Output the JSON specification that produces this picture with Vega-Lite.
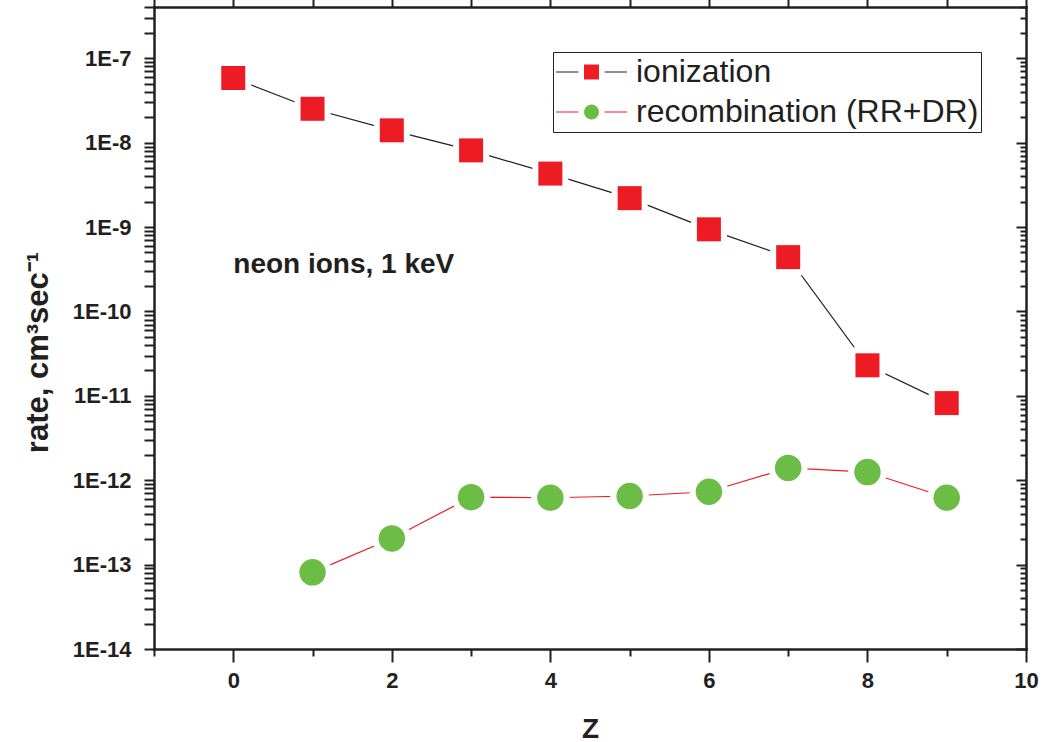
{
  "$schema": "https://vega.github.io/schema/vega-lite/v6.json",
  "width": 872,
  "height": 642,
  "autosize": {"type": "none"},
  "padding": {"left": 154, "top": 7, "right": 16, "bottom": 93},
  "background": "white",
  "config": {
    "view": {"stroke": null},
    "font": "Liberation Sans",
    "axis": {
      "grid": false,
      "domainColor": "#231F20",
      "domainWidth": 2.5,
      "domainCap": "square",
      "tickColor": "#231F20",
      "tickWidth": 2,
      "labelFont": "Liberation Sans",
      "labelFontWeight": "bold",
      "labelFontSize": 22,
      "labelColor": "#231F20",
      "labelFlush": false,
      "labelOverlap": false,
      "titleFont": "Liberation Sans",
      "titleFontWeight": "bold",
      "titleColor": "#231F20"
    },
    "legend": {"labelFont": "Liberation Sans"}
  },
  "datasets": {
    "rates": [
      {"Z": 0, "rate": 5.84e-8, "process": "ionization"},
      {"Z": 1, "rate": 2.52e-8, "process": "ionization"},
      {"Z": 2, "rate": 1.40e-8, "process": "ionization"},
      {"Z": 3, "rate": 8.1e-9, "process": "ionization"},
      {"Z": 4, "rate": 4.3e-9, "process": "ionization"},
      {"Z": 5, "rate": 2.2e-9, "process": "ionization"},
      {"Z": 6, "rate": 9.4e-10, "process": "ionization"},
      {"Z": 7, "rate": 4.4e-10, "process": "ionization"},
      {"Z": 8, "rate": 2.3e-11, "process": "ionization"},
      {"Z": 9, "rate": 8.2e-12, "process": "ionization"},
      {"Z": 1, "rate": 8.1e-14, "process": "recombination (RR+DR)"},
      {"Z": 2, "rate": 2.04e-13, "process": "recombination (RR+DR)"},
      {"Z": 3, "rate": 6.3e-13, "process": "recombination (RR+DR)"},
      {"Z": 4, "rate": 6.2e-13, "process": "recombination (RR+DR)"},
      {"Z": 5, "rate": 6.5e-13, "process": "recombination (RR+DR)"},
      {"Z": 6, "rate": 7.3e-13, "process": "recombination (RR+DR)"},
      {"Z": 7, "rate": 1.4e-12, "process": "recombination (RR+DR)"},
      {"Z": 8, "rate": 1.25e-12, "process": "recombination (RR+DR)"},
      {"Z": 9, "rate": 6.2e-13, "process": "recombination (RR+DR)"}
    ]
  },
  "data": {"name": "rates"},
  "transform": [{"calculate": "datum.process", "as": "kind"}],
  "layer": [
    {
      "mark": {"type": "point", "opacity": 0},
      "encoding": {
        "x": {
          "field": "Z", "type": "quantitative",
          "scale": {"domain": [-1, 10], "nice": false, "zero": false},
          "axis": {
            "orient": "bottom",
            "values": [-1, 0, 1, 2, 3, 4, 5, 6, 7, 8, 9, 10],
            "labelExpr": "datum.value % 2 === 0 ? datum.label : ''",
            "tickSize": 13,
            "tickColor": "#231F20",
            "tickDash": {"condition": {"test": "datum.value % 2 === 0", "value": [13, 100]}, "value": [7, 100]},
            "labelPadding": 8,
            "title": "Z", "titleFontSize": 28, "titleBaseline": "alphabetic", "titleY": 88
          }
        },
        "y": {
          "field": "rate", "type": "quantitative",
          "scale": {"type": "log", "domain": [1e-14, 4.05e-7], "nice": false},
          "axis": {
            "orient": "left",
            "values": [1e-14, 2e-14, 3e-14, 4e-14, 5e-14, 6e-14, 7e-14, 8e-14, 9e-14,
                       1e-13, 2e-13, 3e-13, 4e-13, 5e-13, 6e-13, 7e-13, 8e-13, 9e-13,
                       1e-12, 2e-12, 3e-12, 4e-12, 5e-12, 6e-12, 7e-12, 8e-12, 9e-12,
                       1e-11, 2e-11, 3e-11, 4e-11, 5e-11, 6e-11, 7e-11, 8e-11, 9e-11,
                       1e-10, 2e-10, 3e-10, 4e-10, 5e-10, 6e-10, 7e-10, 8e-10, 9e-10,
                       1e-9, 2e-9, 3e-9, 4e-9, 5e-9, 6e-9, 7e-9, 8e-9, 9e-9,
                       1e-8, 2e-8, 3e-8, 4e-8, 5e-8, 6e-8, 7e-8, 8e-8, 9e-8,
                       1e-7, 2e-7, 3e-7, 4e-7],
            "labelExpr": "abs(log(datum.value) / LN10 - round(log(datum.value) / LN10)) < 0.001 ? '1E' + round(log(datum.value) / LN10) : ''",
            "tickSize": 10,
            "tickColor": "#231F20",
            "labelPadding": 13,
            "title": "rate, cm³sec⁻¹", "titleFontSize": 31, "titleAngle": -90,
            "titleBaseline": "alphabetic", "titleX": -107, "titleY": 345
          }
        }
      }
    },
    {
      "mark": {"type": "point", "opacity": 0},
      "encoding": {
        "x": {
          "field": "Z", "type": "quantitative",
          "scale": {"domain": [-1, 10], "nice": false, "zero": false},
          "axis": {
            "orient": "top",
            "values": [-1, 0, 1, 2, 3, 4, 5, 6, 7, 8, 9, 10],
            "labels": false, "title": null,
            "tickSize": 8, "tickColor": "#231F20"
          }
        },
        "y": {
          "field": "rate", "type": "quantitative",
          "scale": {"type": "log", "domain": [1e-14, 4.05e-7], "nice": false},
          "axis": {
            "orient": "right",
            "values": [1e-14, 2e-14, 3e-14, 4e-14, 5e-14, 6e-14, 7e-14, 8e-14, 9e-14,
                       1e-13, 2e-13, 3e-13, 4e-13, 5e-13, 6e-13, 7e-13, 8e-13, 9e-13,
                       1e-12, 2e-12, 3e-12, 4e-12, 5e-12, 6e-12, 7e-12, 8e-12, 9e-12,
                       1e-11, 2e-11, 3e-11, 4e-11, 5e-11, 6e-11, 7e-11, 8e-11, 9e-11,
                       1e-10, 2e-10, 3e-10, 4e-10, 5e-10, 6e-10, 7e-10, 8e-10, 9e-10,
                       1e-9, 2e-9, 3e-9, 4e-9, 5e-9, 6e-9, 7e-9, 8e-9, 9e-9,
                       1e-8, 2e-8, 3e-8, 4e-8, 5e-8, 6e-8, 7e-8, 8e-8, 9e-8,
                       1e-7, 2e-7, 3e-7, 4e-7],
            "labels": false, "title": null, "ticks": false,
            "grid": true, "gridColor": "#231F20", "gridWidth": 2, "gridOpacity": 1,
            "gridDash": {"condition": {"test": "abs(log(datum.value) / LN10 - round(log(datum.value) / LN10)) < 0.001", "value": [10, 2000]}, "value": [6, 2000]}
          }
        }
      }
    },
    {
      "mark": {"type": "line", "strokeWidth": 1.2},
      "encoding": {
        "x": {"field": "Z", "type": "quantitative", "axis": null},
        "y": {"field": "rate", "type": "quantitative", "axis": null},
        "stroke": {
          "field": "process", "type": "nominal",
          "scale": {"domain": ["ionization", "recombination (RR+DR)"], "range": ["#231F20", "#ED1C24"]},
          "legend": {
            "orient": "none", "legendX": 399, "legendY": 45, "title": null,
            "symbolType": "M-1,0L-0.37,0M0.37,0L1,0", "symbolSize": 5041,
            "symbolStrokeWidth": 1.2, "clipHeight": 36, "rowPadding": 4, "padding": 2,
            "labelFontSize": 32, "labelColor": "#231F20", "labelOffset": 8,
            "labelExpr": "datum.label + '\u00a0\u00a0'",
            "labelLimit": 600, "strokeColor": "#231F20"
          }
        }
      }
    },
    {
      "transform": [{"filter": "datum.kind === 'ionization'"}],
      "mark": {"type": "point", "shape": "square", "filled": true, "color": "white", "opacity": 1, "size": 1296},
      "encoding": {
        "x": {"field": "Z", "type": "quantitative", "axis": null},
        "y": {"field": "rate", "type": "quantitative", "axis": null}
      }
    },
    {
      "transform": [{"filter": "datum.kind !== 'ionization'"}],
      "mark": {"type": "point", "shape": "circle", "filled": true, "color": "white", "opacity": 1, "size": 1498},
      "encoding": {
        "x": {"field": "Z", "type": "quantitative", "axis": null},
        "y": {"field": "rate", "type": "quantitative", "axis": null}
      }
    },
    {
      "mark": {"type": "point", "filled": true, "opacity": 1, "strokeWidth": 0},
      "encoding": {
        "x": {"field": "Z", "type": "quantitative", "axis": null},
        "y": {"field": "rate", "type": "quantitative", "axis": null},
        "fill": {
          "field": "kind", "type": "nominal",
          "scale": {"range": ["#ED1C24", "#6CBD45"]},
          "legend": {
            "orient": "none", "legendX": 428, "legendY": 45, "title": null,
            "symbolSize": 225, "symbolStrokeWidth": 0, "clipHeight": 36, "rowPadding": 4, "padding": 2,
            "labelExpr": "''", "labelOpacity": 0
          }
        },
        "shape": {
          "field": "kind", "type": "nominal",
          "scale": {"range": ["square", "circle"]},
          "legend": {
            "orient": "none", "legendX": 428, "legendY": 45, "title": null,
            "symbolSize": 225, "symbolStrokeWidth": 0, "clipHeight": 36, "rowPadding": 4, "padding": 2,
            "labelExpr": "''", "labelOpacity": 0
          }
        },
        "size": {"condition": {"test": "datum.kind === 'ionization'", "value": 576}, "value": 700}
      }
    },
    {
      "data": {"values": [{}]},
      "mark": {
        "type": "text", "text": "neon ions, 1 keV", "align": "left", "baseline": "alphabetic",
        "font": "Liberation Sans", "fontSize": 28, "fontWeight": "bold", "color": "#231F20"
      },
      "encoding": {
        "x": {"datum": 0, "type": "quantitative", "axis": null},
        "y": {"datum": 2.86e-10, "type": "quantitative", "axis": null}
      }
    }
  ],
  "resolve": {"axis": {"x": "independent", "y": "independent"}}
}
